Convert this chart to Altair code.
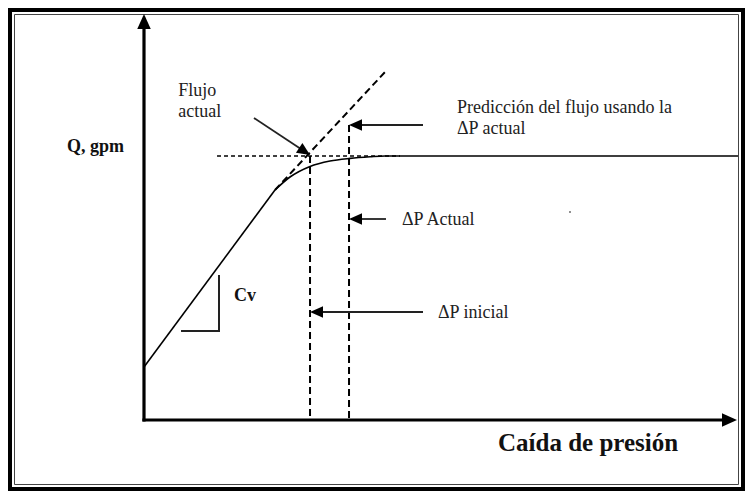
import math
import altair as alt
import pandas as pd

# ---------------- coordinate frame (arbitrary units) -------------
# x = caída de presión, y = Q (gpm); origin at the corner of the two axes
X_MIN, X_MAX = -22.667, 100.167
Y_MIN, Y_MAX = -17.75, 103.0
W, H = 737, 483
PXX = W / (X_MAX - X_MIN)
PXY = H / (Y_MAX - Y_MIN)

# ---------------- data ----------------
# axes: start -> arrow tip
axis_x0 = [0.0, 0.0]
axis_y0 = [0.0, 0.0]
axis_x1 = [0.0, 98.83]
axis_y1 = [101.5, 0.0]

# straight (Cv) part of the valve curve
line_x = [0.0, 21.83]
line_y = [13.25, 57.5]
# curved part of the valve curve, flattening out to the maximum flow
curve_x = [21.83, 24.33, 27.67, 31.0, 34.33, 37.67, 40.17, 99.0]
curve_y = [57.5, 60.75, 63.4, 64.75, 65.4, 65.8, 66.0, 66.0]

# dashed extension of the linear part (prediction with Cv)
tan_x0, tan_y0, tan_x1, tan_y1 = [21.83], [57.5], [40.33], [87.25]

# dotted horizontal level of the actual flow
dot_x0, dot_y0, dot_x1, dot_y1 = [12.17], [66.0], [42.67], [66.0]

# vertical dashed lines (ΔP inicial, ΔP actual)
vert_x = [27.67, 34.17]
vert_ytop = [66.0, 73.75]
vert_ybot = [0.0, 0.0]

# annotation arrows: start -> tip
arr_x0 = [18.33, 46.5, 40.33, 46.5]
arr_y0 = [75.5, 73.75, 50.25, 27.0]
arr_x1 = [27.67, 34.17, 34.17, 27.67]
arr_y1 = [66.25, 73.75, 50.25, 27.0]

# Cv slope triangle
cv_x = [6.17, 12.5, 12.5]
cv_y = [22.25, 22.25, 36.25]

# labels
reg_text = ["Flujo", "actual", "Predicción del flujo usando la", "ΔP actual", "ΔP Actual", "ΔP inicial"]
reg_x = [5.72, 5.72, 52.17, 52.17, 43.0, 49.0]
reg_y = [81.0, 75.75, 76.75, 71.5, 48.75, 25.5]
bold_text = ["Cv", "Q, gpm"]
bold_x = [15.0, -12.83]
bold_y = [29.8, 67.0]
title_text = ["Caída de presión"]
title_x = [59.0]
title_y = [-7.75]

dot_px, dot_py = [71.0], [52.0]

# ---------------- helpers ----------------
xs = alt.Scale(domain=[X_MIN, X_MAX], nice=False, zero=False)
ys = alt.Scale(domain=[Y_MIN, Y_MAX], nice=False, zero=False)
HEAD = "M0,0L-2,-0.9L-2,0.9Z"


def arrows(x0s, y0s, x1s, y1s, head_len):
    rows_s, rows_h = [], []
    for x0, y0, x1, y1 in zip(x0s, y0s, x1s, y1s):
        dxp = (x1 - x0) * PXX
        dyp = -(y1 - y0) * PXY
        L = math.hypot(dxp, dyp)
        ux, uy = dxp / L, dyp / L
        back = head_len * 0.7
        xe = x1 - ux * back / PXX
        ye = y1 + uy * back / PXY
        ang = math.degrees(math.atan2(dyp, dxp)) % 360
        rows_s.append({"x0": x0, "y0": y0, "x1": xe, "y1": ye})
        rows_h.append({"x": x1, "y": y1, "a": ang})
    return pd.DataFrame(rows_s), pd.DataFrame(rows_h)


def seg_layer(df, color, width, dash=None, cap="butt"):
    kw = dict(color=color, strokeWidth=width, strokeCap=cap)
    if dash:
        kw["strokeDash"] = dash
    return alt.Chart(df).mark_rule(**kw).encode(
        x=alt.X("x0:Q", scale=xs, axis=None),
        y=alt.Y("y0:Q", scale=ys, axis=None),
        x2="x1:Q",
        y2="y1:Q",
    )


def head_layer(df, size, color="black"):
    return alt.Chart(df).mark_point(
        shape=HEAD, filled=True, size=size, color=color, opacity=1, strokeWidth=0
    ).encode(
        x=alt.X("x:Q", scale=xs, axis=None),
        y=alt.Y("y:Q", scale=ys, axis=None),
        angle=alt.Angle("a:Q", scale=None),
    )


def text_layer(texts, xs_, ys_, size, weight, color):
    df = pd.DataFrame({"t": texts, "x": xs_, "y": ys_})
    return alt.Chart(df).mark_text(
        align="left", baseline="alphabetic", font="Liberation Serif",
        fontSize=size, fontWeight=weight, color=color,
    ).encode(
        x=alt.X("x:Q", scale=xs, axis=None),
        y=alt.Y("y:Q", scale=ys, axis=None),
        text="t:N",
    )


# ---------------- layers ----------------
frame_data = alt.Data(values=[{"k": 1}])
frame_outer = alt.Chart(frame_data).mark_rect(
    fillOpacity=0, stroke="black", strokeWidth=4
).encode(x=alt.value(2), x2=alt.value(W - 2), y=alt.value(2), y2=alt.value(H - 2))
frame_inner = alt.Chart(frame_data).mark_rect(
    fillOpacity=0, stroke="#444", strokeWidth=1
).encode(x=alt.value(6.5), x2=alt.value(W - 6.5), y=alt.value(6.5), y2=alt.value(H - 6.5))

ax_s, ax_h = arrows(axis_x0, axis_y0, axis_x1, axis_y1, 15)
an_s, an_h = arrows(arr_x0, arr_y0, arr_x1, arr_y1, 13)

straight = seg_layer(pd.DataFrame({"x0": [line_x[0]], "y0": [line_y[0]],
                                   "x1": [line_x[1]], "y1": [line_y[1]]}), "black", 1.6)
curve = alt.Chart(pd.DataFrame({"x": curve_x, "y": curve_y})).mark_line(
    color="black", strokeWidth=1.6, interpolate="monotone"
).encode(x=alt.X("x:Q", scale=xs, axis=None), y=alt.Y("y:Q", scale=ys, axis=None))

tangent = seg_layer(pd.DataFrame({"x0": tan_x0, "y0": tan_y0, "x1": tan_x1, "y1": tan_y1}),
                    "black", 2, dash=[7, 4])
dotted = seg_layer(pd.DataFrame({"x0": dot_x0, "y0": dot_y0, "x1": dot_x1, "y1": dot_y1}),
                   "black", 1.5, dash=[4, 3])
verticals = seg_layer(pd.DataFrame({"x0": vert_x, "y0": vert_ytop, "x1": vert_x, "y1": vert_ybot}),
                      "black", 2, dash=[7, 4])
cv = alt.Chart(pd.DataFrame({"x": cv_x, "y": cv_y, "o": [0, 1, 2]})).mark_line(
    color="#222", strokeWidth=2
).encode(x=alt.X("x:Q", scale=xs, axis=None), y=alt.Y("y:Q", scale=ys, axis=None), order="o:Q")

axes = seg_layer(ax_s, "black", 3.2, cap="square")
axes_heads = head_layer(ax_h, 225)
ann = seg_layer(an_s, "#222", 1.8)
ann_heads = head_layer(an_h, 169)

speck = alt.Chart(pd.DataFrame({"x": dot_px, "y": dot_py})).mark_point(
    filled=True, size=3, color="#555", opacity=1, shape="square"
).encode(x=alt.X("x:Q", scale=xs, axis=None), y=alt.Y("y:Q", scale=ys, axis=None))

texts_reg = text_layer(reg_text, reg_x, reg_y, 18, "normal", "#222")
texts_bold = text_layer(bold_text, bold_x, bold_y, 18, "bold", "#111")
texts_title = text_layer(title_text, title_x, title_y, 25, "bold", "#111")

chart = alt.layer(
    frame_outer, frame_inner,
    straight, curve, tangent, dotted, verticals, cv,
    ann, ann_heads, axes, axes_heads, speck,
    texts_reg, texts_bold, texts_title,
).properties(
    width=W, height=H, autosize=alt.AutoSizeParams(type="none"), padding=0,
    background="white",
).configure_view(stroke=None)

chart.save("out.html", embed_options={"renderer": "svg", "actions": False})
